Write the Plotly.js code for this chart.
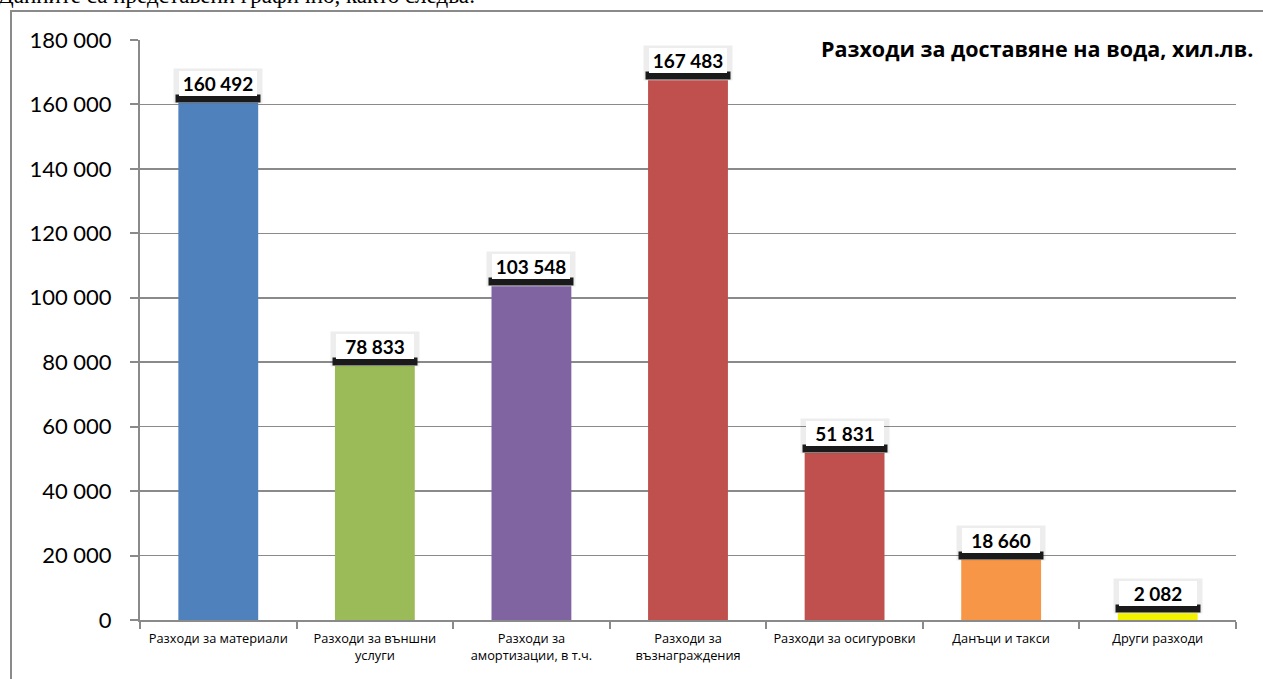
<!DOCTYPE html>
<html>
<head>
<meta charset="utf-8">
<script src="https://cdn.plot.ly/plotly-3.0.1.min.js"></script>
<style>
  html, body { margin: 0; padding: 0; background: #fff; overflow: hidden; }
  #frame { position: absolute; left: 10px; top: 10px; width: 1300px; height: 720px; border-left: 2px solid #8a8a8a; border-top: 2px solid #8a8a8a; }
  #intro { position: absolute; left: -2px; top: -17px; font-family: "Liberation Serif", "DejaVu Serif", serif; font-size: 23px; color: #000; white-space: nowrap; }
  #chart { position: absolute; left: 0; top: 0; width: 1263px; height: 679px; }
</style>
</head>
<body>
<div id="frame"></div>
<div id="intro">Данните са представени графично, както следва:</div>
<div id="chart"></div>
<script>
const categories = [
  "Разходи за материали",
  "Разходи за външни<br>услуги",
  "Разходи за<br>амортизации, в т.ч.",
  "Разходи за<br>възнаграждения",
  "Разходи за осигуровки",
  "Данъци и такси",
  "Други разходи"
];
const values = [160492, 78833, 103548, 167483, 51831, 18660, 2082];
const valueLabels = ["160 492", "78 833", "103 548", "167 483", "51 831", "18 660", "2 082"];
const barColors = ["#4F81BD", "#9BBB59", "#8064A2", "#C0504D", "#C0504D", "#F79646", "#F2F200"];
const tickValues = [0, 20000, 40000, 60000, 80000, 100000, 120000, 140000, 160000, 180000];
const tickLabels = ["0", "20 000", "40 000", "60 000", "80 000", "100 000", "120 000", "140 000", "160 000", "180 000"];
const chartTitle = "Разходи за доставяне на вода, хил.лв.";

const trace = {
  type: "bar",
  x: categories,
  y: values,
  marker: { color: barColors, line: { width: 0 } },
  hoverinfo: "none"
};

const annotations = [];
categories.forEach((c, i) => {
  // soft shadow halo around the label
  annotations.push({
    x: c, y: values[i], xref: "x", yref: "y",
    text: " ", showarrow: false,
    yanchor: "bottom", xanchor: "center", yshift: -1,
    width: 88, height: 34,
    bgcolor: "rgba(0,0,0,0.07)", borderpad: 0,
    font: { size: 2 }
  });
  // dark shadow band just above the bar
  annotations.push({
    x: c, y: values[i], xref: "x", yref: "y",
    text: " ", showarrow: false,
    yanchor: "bottom", xanchor: "center",
    width: 84, height: 7,
    bgcolor: "#1a1a1a", borderpad: 0,
    font: { size: 2 }
  });
  // white label box
  annotations.push({
    x: c, y: values[i], xref: "x", yref: "y",
    text: "<b>" + valueLabels[i] + "</b>", showarrow: false,
    yanchor: "bottom", xanchor: "center", yshift: 7,
    width: 78, height: 25,
    bgcolor: "#ffffff", bordercolor: "#ffffff", borderwidth: 0, borderpad: 0,
    font: { family: "Lato, 'Open Sans', sans-serif", size: 19, color: "#000" }
  });
});
annotations.push({
  xref: "paper", yref: "paper", x: 1.0175, y: 0.986,
  xanchor: "right", yanchor: "middle", showarrow: false,
  text: "<b>" + chartTitle + "</b>",
  font: { family: "'Open Sans', Lato, sans-serif", size: 21.5, color: "#000" }
});

const layout = {
  width: 1263, height: 679,
  margin: { l: 140, r: 27, t: 40, b: 59 },
  paper_bgcolor: "rgba(0,0,0,0)",
  plot_bgcolor: "rgba(0,0,0,0)",
  showlegend: false,
  bargap: 0.49,
  xaxis: {
    type: "category",
    showline: true, linecolor: "#8a8a8a", linewidth: 2,
    ticks: "outside", tickson: "boundaries", ticklen: 7, tickcolor: "#8a8a8a", tickwidth: 2,
    showgrid: false, zeroline: false,
    ticklabelstandoff: 6,
    tickfont: { family: "'Open Sans', sans-serif", size: 12.8, color: "#000" },
    automargin: false
  },
  yaxis: {
    range: [0, 180000],
    tickvals: tickValues, ticktext: tickLabels,
    showline: true, linecolor: "#8a8a8a", linewidth: 2,
    ticks: "outside", ticklen: 8, tickcolor: "#8a8a8a", tickwidth: 2,
    showgrid: true, gridcolor: "#8a8a8a", gridwidth: 1.5,
    zeroline: false,
    ticklabelstandoff: 14,
    tickfont: { family: "Lato, 'Open Sans', sans-serif", size: 22, color: "#000" },
    automargin: false
  },
  annotations: annotations
};

Plotly.newPlot("chart", [trace], layout, { displayModeBar: false, staticPlot: true });
</script>
</body>
</html>
